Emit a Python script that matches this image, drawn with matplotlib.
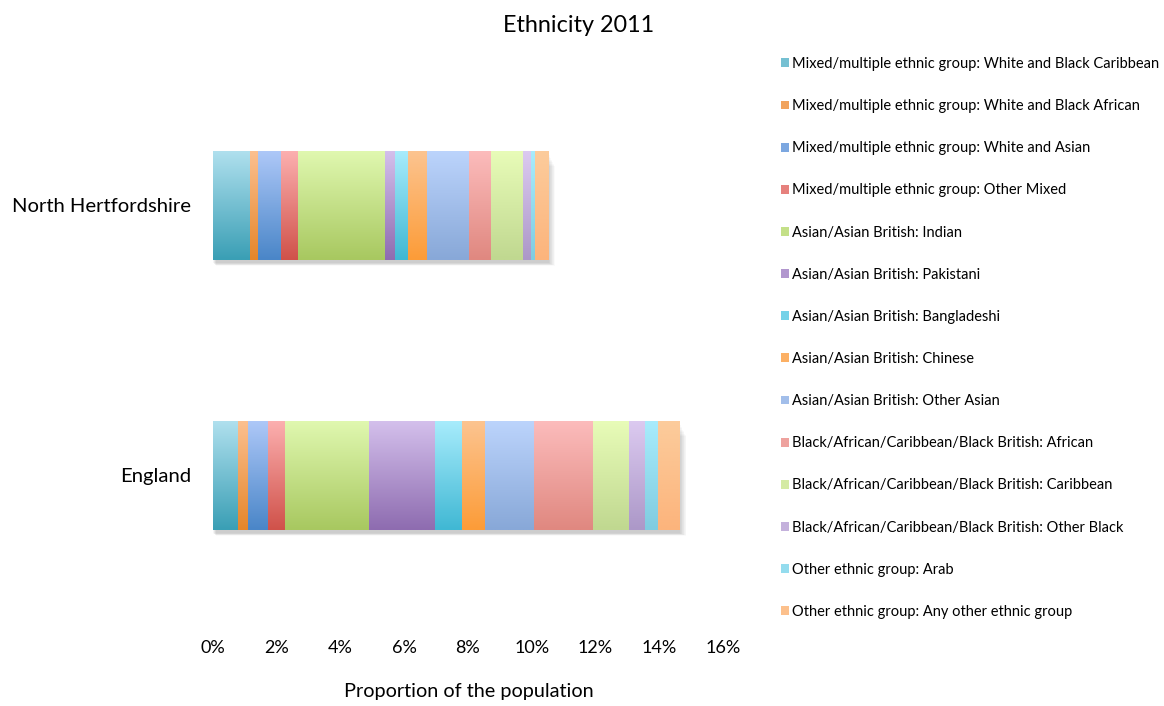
import numpy as np
import matplotlib
matplotlib.use("Agg")
import matplotlib.pyplot as plt
from matplotlib.patches import Patch
from matplotlib.colors import to_rgb
from matplotlib.ticker import FuncFormatter

plt.rcParams['font.family'] = ['Lato', 'DejaVu Sans']

# data (% of population)
areas = ["England", "North Hertfordshire"]
groups = [
    "Mixed/multiple ethnic group: White and Black Caribbean",
    "Mixed/multiple ethnic group: White and Black African",
    "Mixed/multiple ethnic group: White and Asian",
    "Mixed/multiple ethnic group: Other Mixed",
    "Asian/Asian British: Indian",
    "Asian/Asian British: Pakistani",
    "Asian/Asian British: Bangladeshi",
    "Asian/Asian British: Chinese",
    "Asian/Asian British: Other Asian",
    "Black/African/Caribbean/Black British: African",
    "Black/African/Caribbean/Black British: Caribbean",
    "Black/African/Caribbean/Black British: Other Black",
    "Other ethnic group: Arab",
    "Other ethnic group: Any other ethnic group",
]
england = [0.78, 0.31, 0.63, 0.53, 2.63, 2.10, 0.82, 0.73, 1.53, 1.85, 1.13, 0.53, 0.41, 0.66]
north_herts = [1.16, 0.25, 0.73, 0.52, 2.73, 0.31, 0.41, 0.62, 1.29, 0.69, 1.03, 0.25, 0.10, 0.43]

# gradient colours (top, bottom)
top_colors = ["#b0e0ee", "#fcc090", "#aec8f8", "#fcb0b0", "#e0f8b0", "#d4c0ec", "#a8ecfc",
              "#fcc490", "#bcd4fc", "#fcbcbc", "#e8fcb8", "#dccaf0", "#a8ecfc", "#fccc9c"]
bottom_colors = ["#3a9fb5", "#e5862a", "#4a86c8", "#d0524a", "#a8c860", "#8e6cb0", "#40b8d4",
                 "#fc9c38", "#88a8d8", "#e08880", "#c0d890", "#ac98c8", "#80cce0", "#fcb47c"]

fig = plt.figure(figsize=(11.64, 7.06), dpi=100)
ax = fig.add_axes([0.183, 0.1353, 0.438, 0.765])

values = {"England": england, "North Hertfordshire": north_herts}
bar_h = 0.404

for yi, area in enumerate(areas):
    vals = values[area]
    total = sum(vals)
    # soft shadow
    for k in range(10):
        ax.barh(yi - 0.012 - 0.003 * k, total + 0.02 + 0.012 * k, height=bar_h - 0.004 * k,
                left=0.01 * k, color="#000000", alpha=0.018, linewidth=0, zorder=1)
    left = 0
    for i, v in enumerate(vals):
        bar = ax.barh(yi, v, left=left, height=bar_h, color="none", linewidth=0, zorder=2)[0]
        c1 = np.array(to_rgb(top_colors[i]))
        c2 = np.array(to_rgb(bottom_colors[i]))
        t = np.linspace(0, 1, 64)[:, None]
        grad = (c1 * (1 - t) + c2 * t)[:, None, :]
        im = ax.imshow(grad, extent=[left, left + v, yi - bar_h / 2, yi + bar_h / 2],
                       origin="upper", aspect="auto", zorder=2, interpolation="bilinear")
        im.set_clip_path(bar)
        left += v

ax.set_xlim(0, 16)
ax.set_ylim(-0.5, 1.5)
ax.set_xticks(range(0, 17, 2))
ax.xaxis.set_major_formatter(FuncFormatter(lambda x, p: f"{x:.0f}%"))
ax.set_yticks(range(len(areas)))
ax.set_yticklabels(areas)
ax.tick_params(axis="x", length=0, pad=21, labelsize=13, colors="#000000")
ax.tick_params(axis="y", length=0, pad=16, labelsize=14.6, colors="#000000")
for s in ax.spines.values():
    s.set_visible(False)

fig.text(0.403, 1 - 692 / 706, "Proportion of the population", ha="center", va="center", fontsize=14.3)
fig.text(0.497, 1 - 25 / 706, "Ethnicity 2011", ha="center", va="center", fontsize=16.8)

mid_colors = [tuple((np.array(to_rgb(a)) + np.array(to_rgb(b))) / 2) for a, b in zip(top_colors, bottom_colors)]
handles = [Patch(facecolor=c, edgecolor="none") for c in mid_colors]
fig.legend(handles, groups, loc="upper left", bbox_to_anchor=(781 / 1164, 1 - 57 / 706),
           frameon=False, fontsize=10.5, labelspacing=1.93, handlelength=0.55, handleheight=0.55,
           handletextpad=0.2, borderaxespad=0, borderpad=0)

fig.savefig("out.png", dpi=100)
